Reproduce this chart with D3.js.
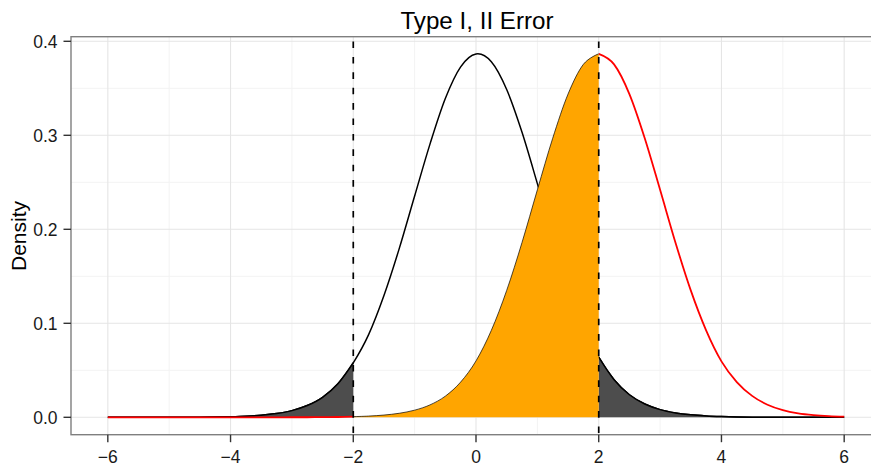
<!DOCTYPE html>
<html>
<head>
<meta charset="utf-8">
<script src="https://cdn.jsdelivr.net/npm/d3@7"></script>
<style>
  html, body { margin: 0; padding: 0; background: #fff; }
  svg { display: block; }
  text { font-family: "Liberation Sans", Arial, Helvetica, sans-serif; }
</style>
</head>
<body>
<svg id="chart" width="871" height="463"></svg>
<script>
// ---- data ----
const titleText = "Type I, II Error";
const yLabel = "Density";
const xGrid = [-6,-5.75,-5.5,-5.25,-5,-4.75,-4.5,-4.25,-4,-3.75,-3.5,-3.25,-3,-2.75,-2.5,-2.25,-2,-1.75,-1.5,-1.25,-1,-0.75,-0.5,-0.25,0,
  0.25,0.5,0.75,1,1.25,1.5,1.75,2,2.25,2.5,2.75,3,3.25,3.5,3.75,4,4.25,4.5,4.75,5,5.25,5.5,5.75,6];
// null hypothesis density (black curve)
const nullDensity = [0,0,0.00001,0.00002,0.00004,0.00007,0.00016,0.00032,0.00065,0.0012,0.0022,0.004,0.0071,0.0125,0.0213,0.0357,0.058,
  0.088,0.1296,0.1797,0.2354,0.2906,0.3391,0.3728,0.3865,0.3782,0.3487,0.3032,0.2486,0.1923,0.1404,0.097,0.064,
  0.04,0.024,0.0142,0.0082,0.0047,0.0026,0.0014,0.00075,0.00038,0.00019,0.00009,0.00004,0.00002,0.00001,0,0];
// alternative hypothesis density (red curve)
const altDensity = [0,0,0,0,0,0,0,0,0,0,0.00001,0.00002,0.00004,0.00008,0.00017,0.00035,0.0007,
  0.0013,0.0024,0.0043,0.0076,0.0132,0.0225,0.0375,0.06,0.0925,0.135,0.186,0.242,0.2969,0.3439,0.3755,0.3867,
  0.3755,0.3439,0.2969,0.242,0.186,0.135,0.0925,0.0595,0.0375,0.0228,0.0134,0.0077,0.0043,0.0024,0.0013,0.0007];
const criticalValues = [-2, 2];
const xTicks = [-6, -4, -2, 0, 2, 4, 6];
const xMinor = [-5, -3, -1, 1, 3, 5];
const yTicks = [0, 0.1, 0.2, 0.3, 0.4];
const yMinor = [0.05, 0.15, 0.25, 0.35];

// ---- layout ----
const svg = d3.select("#chart");
const P = { left: 71, right: 881, top: 36.7, bottom: 434.7 };
const x = d3.scaleLinear().domain([-6.6, 6.6]).range([P.left, P.right]);
const y = d3.scaleLinear().domain([-0.0185, 0.4049]).range([P.bottom, P.top]);

const nullPts = xGrid.map((v, i) => ({ x: v, y: nullDensity[i] }));
const altPts = xGrid.map((v, i) => ({ x: v, y: altDensity[i] }));

svg.append("defs").append("clipPath").attr("id", "clip")
  .append("rect").attr("x", P.left).attr("y", P.top)
  .attr("width", P.right - P.left).attr("height", P.bottom - P.top);

// grid
const grid = svg.append("g");
grid.selectAll(".xmin").data(xMinor).join("line")
  .attr("x1", d => x(d)).attr("x2", d => x(d)).attr("y1", P.top).attr("y2", P.bottom)
  .attr("stroke", "#f3f3f3").attr("stroke-width", 1);
grid.selectAll(".ymin").data(yMinor).join("line")
  .attr("x1", P.left).attr("x2", P.right).attr("y1", d => y(d)).attr("y2", d => y(d))
  .attr("stroke", "#f3f3f3").attr("stroke-width", 1);
grid.selectAll(".xmaj").data(xTicks).join("line")
  .attr("x1", d => x(d)).attr("x2", d => x(d)).attr("y1", P.top).attr("y2", P.bottom)
  .attr("stroke", "#e5e5e5").attr("stroke-width", 1.1);
grid.selectAll(".ymaj").data(yTicks).join("line")
  .attr("x1", P.left).attr("x2", P.right).attr("y1", d => y(d)).attr("y2", d => y(d))
  .attr("stroke", "#e5e5e5").attr("stroke-width", 1.1);

const plot = svg.append("g").attr("clip-path", "url(#clip)");
const curve = d3.curveCatmullRom.alpha(0);
const line = d3.line().x(d => x(d.x)).y(d => y(d.y)).curve(curve);
const area = d3.area().x(d => x(d.x)).y0(y(0)).y1(d => y(d.y)).curve(curve);

// null curve
plot.append("path").datum(nullPts).attr("d", line)
  .attr("fill", "none").attr("stroke", "#000").attr("stroke-width", 1.5);

// type I error tails
const leftTail = nullPts.filter(d => d.x <= criticalValues[0]);
const rightTail = nullPts.filter(d => d.x >= criticalValues[1]);
[leftTail, rightTail].forEach(t => {
  plot.append("path").datum(t).attr("d", area).attr("fill", "#4d4d4d");
  plot.append("path").datum(t).attr("d", line)
    .attr("fill", "none").attr("stroke", "#000").attr("stroke-width", 1.5);
});

// alternative curve (red) outside the acceptance region
const altLeft = altPts.filter(d => d.x <= criticalValues[0]);
const altRight = altPts.filter(d => d.x >= criticalValues[1]);
[altLeft, altRight].forEach(t => {
  plot.append("path").datum(t).attr("d", line)
    .attr("fill", "none").attr("stroke", "#ff0000").attr("stroke-width", 1.8);
});

// type II error (orange)
const beta = altPts.filter(d => d.x >= criticalValues[0] && d.x <= criticalValues[1]);
plot.append("path").datum(beta).attr("d", area).attr("fill", "#ffa500");
plot.append("path").datum(beta).attr("d", line)
  .attr("fill", "none").attr("stroke", "#000").attr("stroke-width", 0.7);

// dashed critical lines
plot.selectAll(".crit").data(criticalValues).join("line")
  .attr("x1", d => x(d)).attr("x2", d => x(d)).attr("y1", P.top).attr("y2", P.bottom)
  .attr("stroke", "#000").attr("stroke-width", 1.7)
  .attr("stroke-dasharray", "6.6 8.8").attr("stroke-dashoffset", 10.6);

// panel border
svg.append("rect").attr("x", P.left).attr("y", P.top)
  .attr("width", P.right - P.left).attr("height", P.bottom - P.top)
  .attr("fill", "none").attr("stroke", "#7f7f7f").attr("stroke-width", 1.4);

// axes ticks
svg.append("g").selectAll("line").data(yTicks).join("line")
  .attr("x1", P.left - 7.5).attr("x2", P.left).attr("y1", d => y(d)).attr("y2", d => y(d))
  .attr("stroke", "#333").attr("stroke-width", 1.4);
svg.append("g").selectAll("line").data(xTicks).join("line")
  .attr("x1", d => x(d)).attr("x2", d => x(d)).attr("y1", P.bottom).attr("y2", P.bottom + 7.5)
  .attr("stroke", "#333").attr("stroke-width", 1.4);

const fmtY = d3.format(".1f");
svg.append("g").selectAll("text").data(yTicks).join("text")
  .attr("x", 57.5).attr("y", d => y(d) + 6.8)
  .attr("text-anchor", "end").attr("font-size", 17.5).attr("fill", "#1a1a1a")
  .text(d => fmtY(d));
svg.append("g").selectAll("text").data(xTicks).join("text")
  .attr("x", d => x(d)).attr("y", 462.8)
  .attr("text-anchor", "middle").attr("font-size", 17.5).attr("fill", "#1a1a1a")
  .text(d => d < 0 ? "\u2212" + Math.abs(d) : String(d));

// title & axis label
svg.append("text").attr("x", 477).attr("y", 29.3)
  .attr("text-anchor", "middle").attr("font-size", 24.2).attr("fill", "#000")
  .text(titleText);
svg.append("text").attr("transform", "translate(26,236) rotate(-90)")
  .attr("text-anchor", "middle").attr("font-size", 21).attr("fill", "#000")
  .text(yLabel);
</script>
</body>
</html>
